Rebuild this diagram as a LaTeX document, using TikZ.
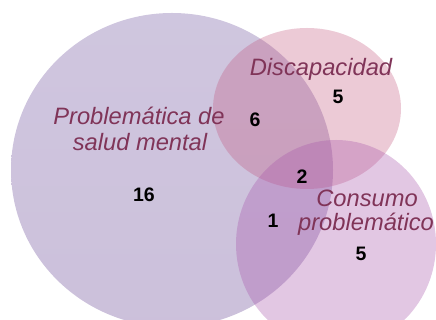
\documentclass[tikz,border=0pt]{standalone}
\usepackage{fontspec}
\setmainfont{Liberation Sans}
\begin{document}
\begin{tikzpicture}[x=1pt,y=1pt,
  lbl/.style={inner sep=0pt,anchor=base,text=labelc,font=\itshape\fontsize{23.7}{26}\selectfont},
  num/.style={inner sep=0pt,anchor=base,text=black,font=\bfseries\fontsize{19.5}{21}\selectfont}]
\definecolor{labelc}{RGB}{128,52,88}
\definecolor{bigtop}{RGB}{130,105,170}
\definecolor{bigbot}{RGB}{120,90,160}
\definecolor{disc}{RGB}{192,80,120}
\definecolor{cons}{RGB}{168,84,170}
\useasboundingbox (0,0) rectangle (436,320);
\clip (0,0) rectangle (436,320);
\shade[top color=bigtop,bottom color=bigbot,opacity=0.38] (172,150) ellipse [x radius=161,y radius=157];
\fill[disc,opacity=0.3] (307,211.5) ellipse [x radius=94,y radius=80.5];
\fill[cons,opacity=0.33] (336,76) ellipse [x radius=100,y radius=104];
\node[lbl] (psm1) at (139,195) {Problemática de};
\node[lbl] (psm2) at (140,169) {salud mental};
\node[lbl] (dis) at (321,244) {Discapacidad};
\node[lbl] (con1) at (367,113) {Consumo};
\node[lbl] (con2) at (366,89) {problemático};
\node[num] (n16) at (144,118) {16};
\node[num] (n6) at (255,193) {6};
\node[num] (n5a) at (338,216) {5};
\node[num] (n2) at (302,136) {2};
\node[num] (n1) at (273,92) {1};
\node[num] (n5b) at (361,59) {5};
\end{tikzpicture}
\end{document}
